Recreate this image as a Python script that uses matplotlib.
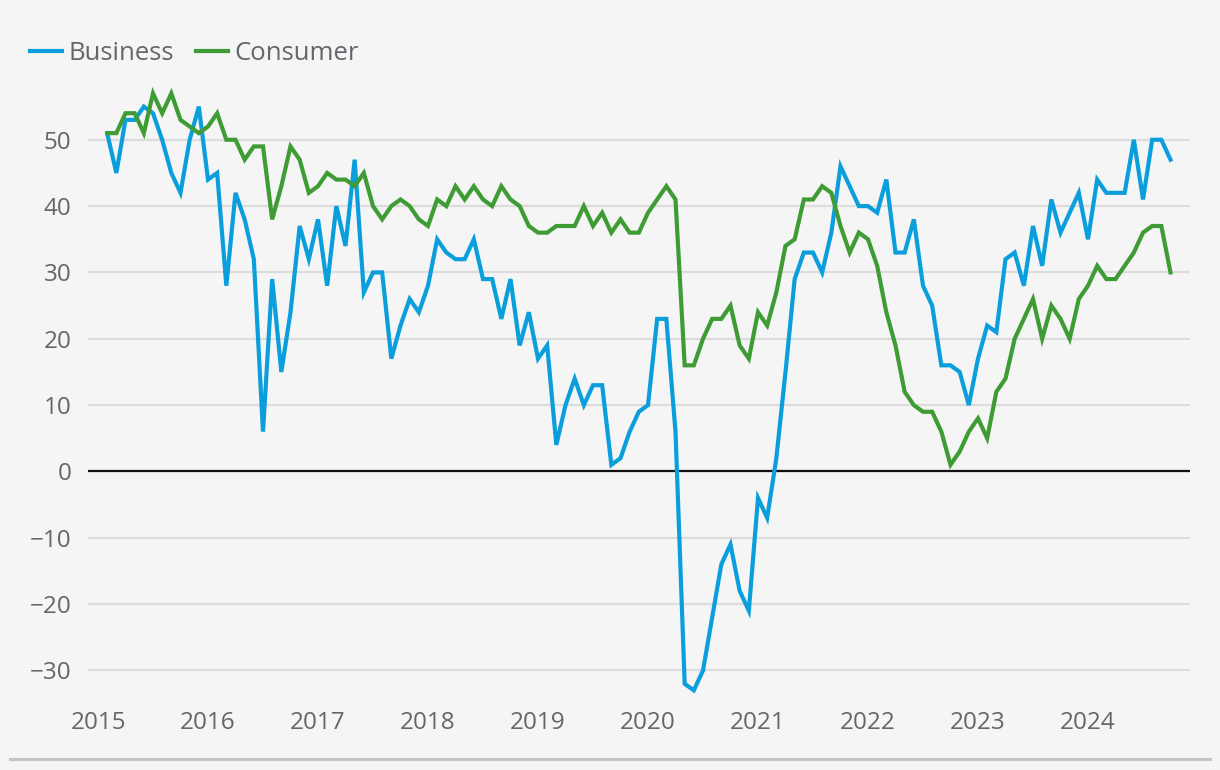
import numpy as np
import matplotlib
matplotlib.use("Agg")
import matplotlib.pyplot as plt

# monthly confidence readings, Feb 2015 .. Oct 2024
business = [51, 45, 53, 53, 55, 54, 50, 45, 42, 50, 55, 44, 45, 28, 42, 38, 32, 6, 29, 15, 24, 37, 32, 38,
            28, 40, 34, 47, 27, 30, 30, 17, 22, 26, 24, 28, 35, 33, 32, 32, 35, 29, 29, 23, 29, 19, 24, 17, 19, 4,
            10, 14, 10, 13, 13, 1, 2, 6, 9, 10, 23, 23, 6, -32, -33, -30, -22, -14, -11, -18, -21, -4, -7, 2,
            15, 29, 33, 33, 30, 36, 46, 43, 40, 40, 39, 44, 33, 33, 38, 28, 25, 16, 16, 15, 10, 17, 22, 21,
            32, 33, 28, 37, 31, 41, 36, 39, 42, 35, 44, 42, 42, 42, 50, 41, 50, 50, 47]
consumer = [51, 51, 54, 54, 51, 57, 54, 57, 53, 52, 51, 52, 54, 50, 50, 47, 49, 49, 38, 43, 49, 47, 42, 43,
            45, 44, 44, 43, 45, 40, 38, 40, 41, 40, 38, 37, 41, 40, 43, 41, 43, 41, 40, 43, 41, 40, 37, 36, 36, 37,
            37, 37, 40, 37, 39, 36, 38, 36, 36, 39, 41, 43, 41, 16, 16, 20, 23, 23, 25, 19, 17, 24, 22, 27,
            34, 35, 41, 41, 43, 42, 37, 33, 36, 35, 31, 24, 19, 12, 10, 9, 9, 6, 1, 3, 6, 8, 5, 12,
            14, 20, 23, 26, 20, 25, 23, 20, 26, 28, 31, 29, 29, 31, 33, 36, 37, 37, 30]
years = list(range(2015, 2025))
yticks = [-30, -20, -10, 0, 10, 20, 30, 40, 50]

dates = 2015 + (np.arange(len(business)) + 1) / 12.0

BG = "#f5f5f5"
TXT = "#63666a"
BLUE = "#0a9fdc"
GREEN = "#3f9c35"

plt.rcParams['font.family'] = ['Open Sans', 'DejaVu Sans']

fig = plt.figure(figsize=(12.2, 7.7), dpi=100, facecolor=BG)
ax = fig.add_axes([88 / 1220, 1 - 697 / 770, (1190 - 88) / 1220, (697 - 86.7) / 770])
ax.set_facecolor(BG)

ax.plot(dates, business, color=BLUE, lw=3.0, label="Business", solid_joinstyle="miter", zorder=3)
ax.plot(dates, consumer, color=GREEN, lw=3.0, label="Consumer", solid_joinstyle="miter", zorder=3)

ax.set_xlim(2015 - 10 / 110, 2015 + (1190 - 98) / 110)
ax.set_ylim(-34, 58)
ax.set_yticks(yticks)
ax.set_yticklabels([str(v).replace("-", "\u2212") for v in yticks])
ax.set_xticks(years)
ax.set_xticklabels([str(y) for y in years])

ax.grid(axis="y", color="#dcdcdc", lw=1.6, zorder=0)
ax.axhline(0, color="#111111", lw=1.6, zorder=2)
for s in ax.spines.values():
    s.set_visible(False)
ax.tick_params(length=0, labelsize=17.5, labelcolor=TXT)
ax.tick_params(axis="y", pad=12)
ax.tick_params(axis="x", pad=10)

# thin rule along the bottom of the figure
fig.add_artist(plt.Line2D([10 / 1220, 1210 / 1220], [1 - 759 / 770] * 2, color="#c4c4c4", lw=2.2))

leg = fig.legend(loc="upper left", bbox_to_anchor=(30 / 1220, 1 - 41 / 770), ncol=2, frameon=False,
                 fontsize=18.5, handlelength=1.25, handletextpad=0.25, columnspacing=0.85,
                 borderaxespad=0, borderpad=0)
for t in leg.get_texts():
    t.set_color(TXT)

fig.savefig("out.png", dpi=100, facecolor=BG)
